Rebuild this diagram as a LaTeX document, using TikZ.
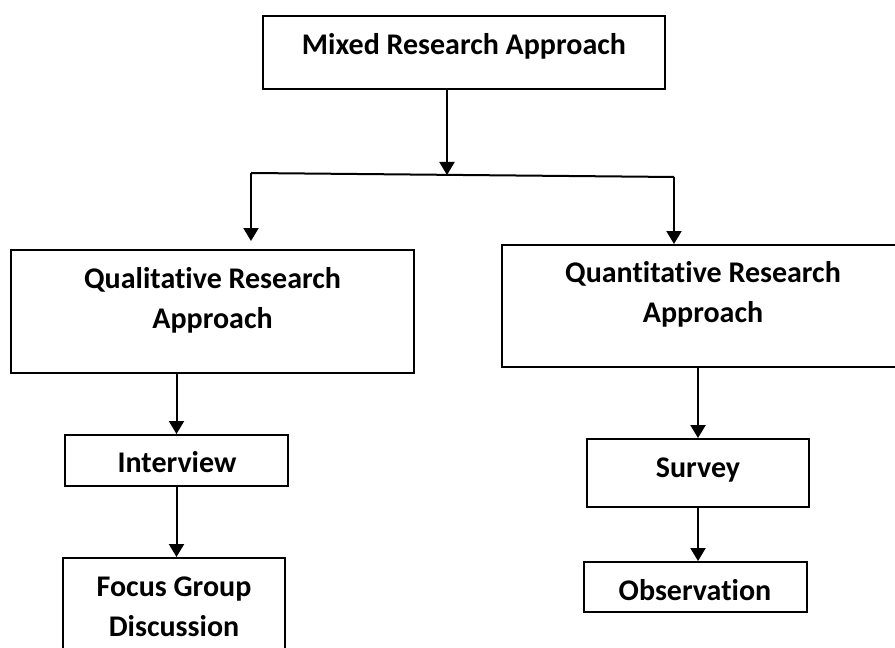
\documentclass[tikz,border=0pt]{standalone}
\usepackage{fontspec}
\setmainfont{Carlito}[Ligatures={NoCommon}]
\usepackage{tikz}
\usetikzlibrary{arrows.meta,positioning,calc}
\tikzset{
  % 方框
  box/.style={
    draw=black,
    line width=1.9pt,
    rectangle,
    inner sep=0pt
  },
  % 文字
  txt/.style={
    font=\fontsize{30pt}{40pt}\selectfont\bfseries,
    align=center,
    anchor=base,
    inner sep=0pt
  },
  % 箭头
  arrow/.style={-{Triangle[length=13pt,width=15pt]}, line width=2pt},
}

\begin{document}
\begin{tikzpicture}[x=1pt, y=1pt]
        \useasboundingbox (0,0) rectangle (895,648);

        % 顶层
        \node[box, minimum width=402pt, minimum height=73pt] (mixed) at (464, 595.5) {};
        \node[txt] (mixedtxt) at (464, 593) {Mixed Research Approach};

        % 分支
        \coordinate (split) at (447, 473);
        \coordinate (jl) at (251, 475);
        \coordinate (jr) at (674, 471);

        % 第二层
        \node[box, minimum width=403pt, minimum height=123pt] (qual) at (212.5, 336.5) {};
        \node[txt] (qualtxt) at (212.5, 319) {Qualitative Research\\Approach};
        \node[box, minimum width=402pt, minimum height=122pt] (quant) at (703, 342) {};
        \node[txt] (quanttxt) at (703, 325) {Quantitative Research\\Approach};

        % 第三层
        \node[box, minimum width=223pt, minimum height=51pt] (inter) at (176.5, 187.5) {};
        \node[txt] (intertxt) at (177, 175) {Interview};
        \node[box, minimum width=222pt, minimum height=68pt] (survey) at (698, 175) {};
        \node[txt] (surveytxt) at (698, 170) {Survey};

        % 第四层
        \node[box, minimum width=222pt, minimum height=123pt] (focus) at (174, 28.5) {};
        \node[txt] (focustxt) at (174, 11) {Focus Group\\Discussion};
        \node[box, minimum width=223pt, minimum height=50pt] (obs) at (695.5, 61) {};
        \node[txt] (obstxt) at (695, 47) {Observation};

        % 连线
        \draw[arrow] (split |- mixed.south) -- (split);
        \draw[line width=2pt] (jl) -- (jr);
        \draw[arrow, shorten >=8pt] (jl) -- (jl |- qual.north);
        \draw[arrow] (jr) -- (jr |- quant.north);

        \draw[arrow] (qual.south -| inter.north) -- (inter.north);
        \draw[arrow] (inter.south) -- (inter.south |- focus.north);
        \draw[arrow] (survey.north |- quant.south) -- (survey.north);
        \draw[arrow] (survey.south) -- (survey.south |- obs.north);
    \end{tikzpicture}
\end{document}
